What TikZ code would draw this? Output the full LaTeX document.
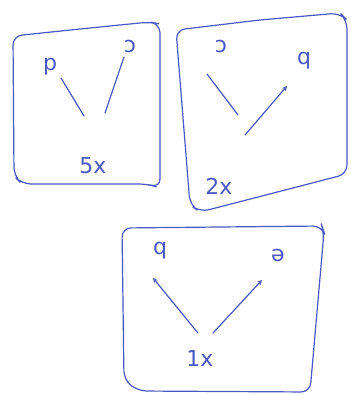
\documentclass[tikz,border=0pt]{standalone}
\usepackage{fontspec}
\setmainfont{DejaVu Sans}
\usetikzlibrary{positioning}
\definecolor{inkblue}{HTML}{4A58C4}
\begin{document}
\begin{tikzpicture}[
  x=1pt,y=-1pt,
  every node/.style={font=\fontsize{22}{24}\selectfont,text=inkblue,inner sep=1pt},
  pen/.style={draw=inkblue,line width=1.2pt,rounded corners=9pt,line cap=round},
  stroke/.style={draw=inkblue,line width=1.2pt,line cap=round},
  arrow/.style={stroke,->,>=stealth}
]
\useasboundingbox (0,0) rectangle (350,395);
% hand drawn frames
\draw[pen] (80,29) -- (150,22) -- (160,24) -- (160,188) -- (148,184) -- (22,184) -- (14,176) -- (13,36) -- (80,29);
\draw[pen] (260,20) -- (340,13) -- (347,20) -- (347,174) -- (200,212) -- (190,205) -- (176,30) -- (260,20);
\draw[pen] (220,227) -- (322,226) -- (324,232) -- (310,392) -- (138,391) -- (124,380) -- (122,228) -- (220,227);
% left frame
\node (p5) at (50,67) {p};
\node (c5) at (130,46) {ɔ};
\node (n5) at (93,166) {5x};
\coordinate (v5l) at (84,116);
\coordinate (v5r) at (105,113);
\draw[stroke] (v5l) -- (61,78);
\draw[stroke] (v5r) -- (124,57);
% right frame
\node (c2) at (221,46) {ɔ};
\node (q2) at (304,61) {q};
\node (n2) at (219,186) {2x};
\coordinate (v2l) at (238,115);
\coordinate (v2r) at (245,135);
\draw[stroke] (v2l) -- (207,74);
\draw[arrow] (v2r) -- (287,86);
% bottom frame
\node (q1) at (160,251) {q};
\node (b1) at (278,255) {ə};
\node (n1) at (200,358) {1x};
\coordinate (v1l) at (198,333);
\coordinate (v1r) at (213,333);
\draw[arrow] (v1l) -- (153,278);
\draw[arrow] (v1r) -- (262,280);
\end{tikzpicture}
\end{document}
